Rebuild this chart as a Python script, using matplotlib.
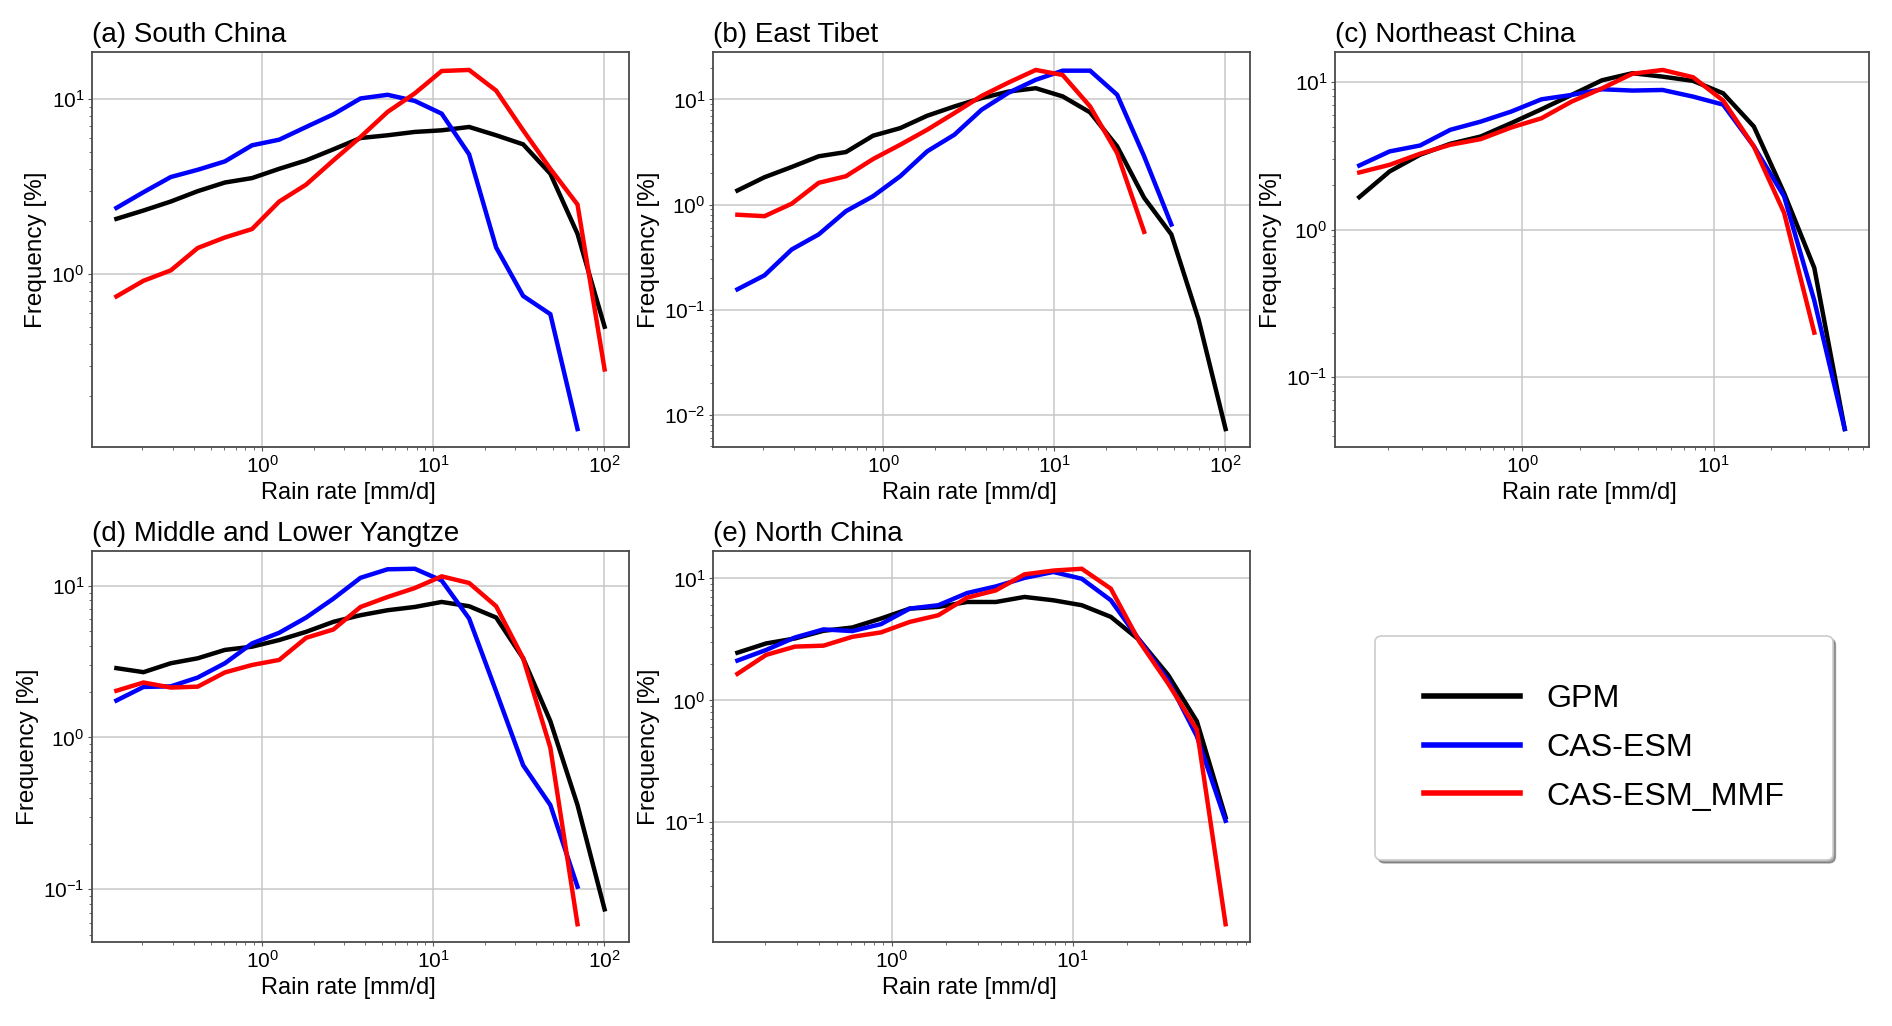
import matplotlib
matplotlib.use("Agg")
import matplotlib.pyplot as plt
from matplotlib.lines import Line2D

plt.rcParams['font.family'] = ['Liberation Sans', 'DejaVu Sans']
plt.rcParams['mathtext.fontset'] = 'custom'
plt.rcParams['mathtext.rm'] = 'Liberation Sans'
plt.rcParams['mathtext.it'] = 'Liberation Sans:italic'

# Rain-rate bin centres [mm/d]
rain_rate = [0.141, 0.203, 0.293, 0.421, 0.607, 0.874, 1.26, 1.81, 2.61, 3.76,
             5.41, 7.8, 11.2, 16.2, 23.3, 33.5, 48.3, 69.6, 100.2]

series_names = ["GPM", "CAS-ESM", "CAS-ESM_MMF"]
series_colors = ["#000000", "#0000ff", "#ff0000"]

titles = ["(a) South China", "(b) East Tibet", "(c) Northeast China",
          "(d) Middle and Lower Yangtze", "(e) North China"]

# (a) South China
a_gpm = [2.07, 2.31, 2.6, 2.98, 3.34, 3.54, 4.0, 4.47, 5.17, 6.0, 6.22, 6.5, 6.64,
         6.94, 6.22, 5.52, 3.75, 1.70, 0.50]
a_cas = [2.39, 2.94, 3.59, 3.95, 4.41, 5.45, 5.87, 6.94, 8.2, 10.1, 10.6, 9.78,
         8.27, 4.84, 1.42, 0.75, 0.59, 0.13]
a_mmf = [0.745, 0.916, 1.05, 1.41, 1.62, 1.81, 2.6, 3.25, 4.47, 6.08, 8.46, 10.8,
         14.5, 14.7, 11.2, 6.64, 4.0, 2.5, 0.285]

# (b) East Tibet
b_gpm = [1.36, 1.82, 2.28, 2.88, 3.16, 4.52, 5.34, 7.0, 8.58, 10.3, 11.9, 12.8,
         10.7, 7.53, 3.58, 1.16, 0.52, 0.081, 0.0073]
b_cas = [0.156, 0.212, 0.374, 0.52, 0.865, 1.2, 1.86, 3.21, 4.62, 7.98, 11.6, 15.4,
         18.8, 18.8, 11.1, 2.88, 0.646]
b_mmf = [0.80, 0.775, 1.02, 1.61, 1.86, 2.71, 3.71, 5.15, 7.42, 10.8, 14.5, 19.1,
         17.1, 8.58, 3.09, 0.55]

# (c) Northeast China
c_gpm = [1.66, 2.48, 3.22, 3.82, 4.28, 5.27, 6.55, 8.19, 10.3, 11.5, 10.9, 10.2,
         8.4, 5.0, 1.77, 0.55, 0.0444]
c_cas = [2.72, 3.39, 3.72, 4.75, 5.4, 6.31, 7.65, 8.19, 8.95, 8.77, 8.85, 7.98,
         7.04, 3.67, 1.68, 0.33, 0.0445]
c_mmf = [2.44, 2.75, 3.27, 3.76, 4.11, 4.92, 5.69, 7.38, 9.08, 11.4, 12.1, 10.8,
         7.5, 3.66, 1.30, 0.20]

# (d) Middle and Lower Yangtze
d_gpm = [2.86, 2.69, 3.08, 3.32, 3.77, 3.96, 4.38, 4.96, 5.77, 6.38, 6.88, 7.23,
         7.8, 7.31, 6.16, 3.32, 1.28, 0.359, 0.0738]
d_cas = [1.75, 2.15, 2.17, 2.48, 3.08, 4.16, 4.89, 6.16, 8.2, 11.25, 12.8, 12.9,
         10.8, 6.07, 2.01, 0.656, 0.359, 0.104]
d_mmf = [2.03, 2.30, 2.13, 2.16, 2.68, 3.0, 3.24, 4.53, 5.14, 7.23, 8.41, 9.63,
         11.5, 10.4, 7.31, 3.32, 0.856, 0.0589]

# (e) North China
e_gpm = [2.46, 2.93, 3.22, 3.72, 3.96, 4.69, 5.66, 5.84, 6.41, 6.41, 7.05, 6.62,
         6.03, 4.84, 3.12, 1.62, 0.675, 0.11]
e_cas = [2.12, 2.59, 3.28, 3.82, 3.7, 4.22, 5.66, 6.03, 7.59, 8.6, 10.1, 11.3,
         9.94, 6.62, 3.12, 1.47, 0.509, 0.103]
e_mmf = [1.65, 2.36, 2.76, 2.81, 3.32, 3.61, 4.4, 4.99, 6.96, 7.98, 10.8, 11.6,
         12.0, 8.24, 3.03, 1.38, 0.577, 0.0146]

panels = [(a_gpm, a_cas, a_mmf), (b_gpm, b_cas, b_mmf), (c_gpm, c_cas, c_mmf),
          (d_gpm, d_cas, d_mmf), (e_gpm, e_cas, e_mmf)]

W, H = 1892, 1026
fig = plt.figure(figsize=(W / 100, H / 100), dpi=100)

# axes boxes in pixels: (left, top, right, bottom)
boxes = [(92, 52, 629, 447), (713, 52, 1250, 447), (1335, 52, 1869, 447),
         (92, 551, 629, 942), (713, 551, 1250, 942)]

for box, title, data in zip(boxes, titles, panels):
    l, t, r, b = box
    ax = fig.add_axes([l / W, 1 - b / H, (r - l) / W, (b - t) / H])
    for vals, color, name in zip(data, series_colors, series_names):
        ax.plot(rain_rate[:len(vals)], vals, color=color, lw=3.2, label=name,
                solid_joinstyle='miter')
    ax.set_xscale('log')
    ax.set_yscale('log')
    ax.grid(True, which='major', color='#c8c8c8', lw=1.1)
    ax.set_axisbelow(True)
    ax.set_title(title, loc='left', fontsize=20, pad=7)
    ax.set_xlabel('Rain rate [mm/d]', fontsize=17, labelpad=4)
    ax.xaxis.label.set_x(0.477)
    ax.set_ylabel('Frequency [%]', fontsize=17.5, labelpad=3)
    ax.tick_params(axis='both', which='major', labelsize=15, length=3,
                   color='#555555', pad=2.5)
    ax.tick_params(axis='both', which='minor', length=2, color='#555555')
    for sp in ax.spines.values():
        sp.set_color('#4a4a4a')
        sp.set_linewidth(1.3)

handles = [Line2D([], [], color=c, lw=4) for c in series_colors]
leg = fig.legend(handles, series_names, loc='center',
                 bbox_to_anchor=(1604 / W, 1 - 748 / H),
                 fontsize=23.2, frameon=True, fancybox=True, shadow=True,
                 borderpad=1.5, handlelength=3.0, handletextpad=0.8,
                 labelspacing=0.58, borderaxespad=0)
leg.get_frame().set_edgecolor('#cccccc')
leg.get_frame().set_linewidth(1.2)

fig.savefig('out.png', dpi=100)
